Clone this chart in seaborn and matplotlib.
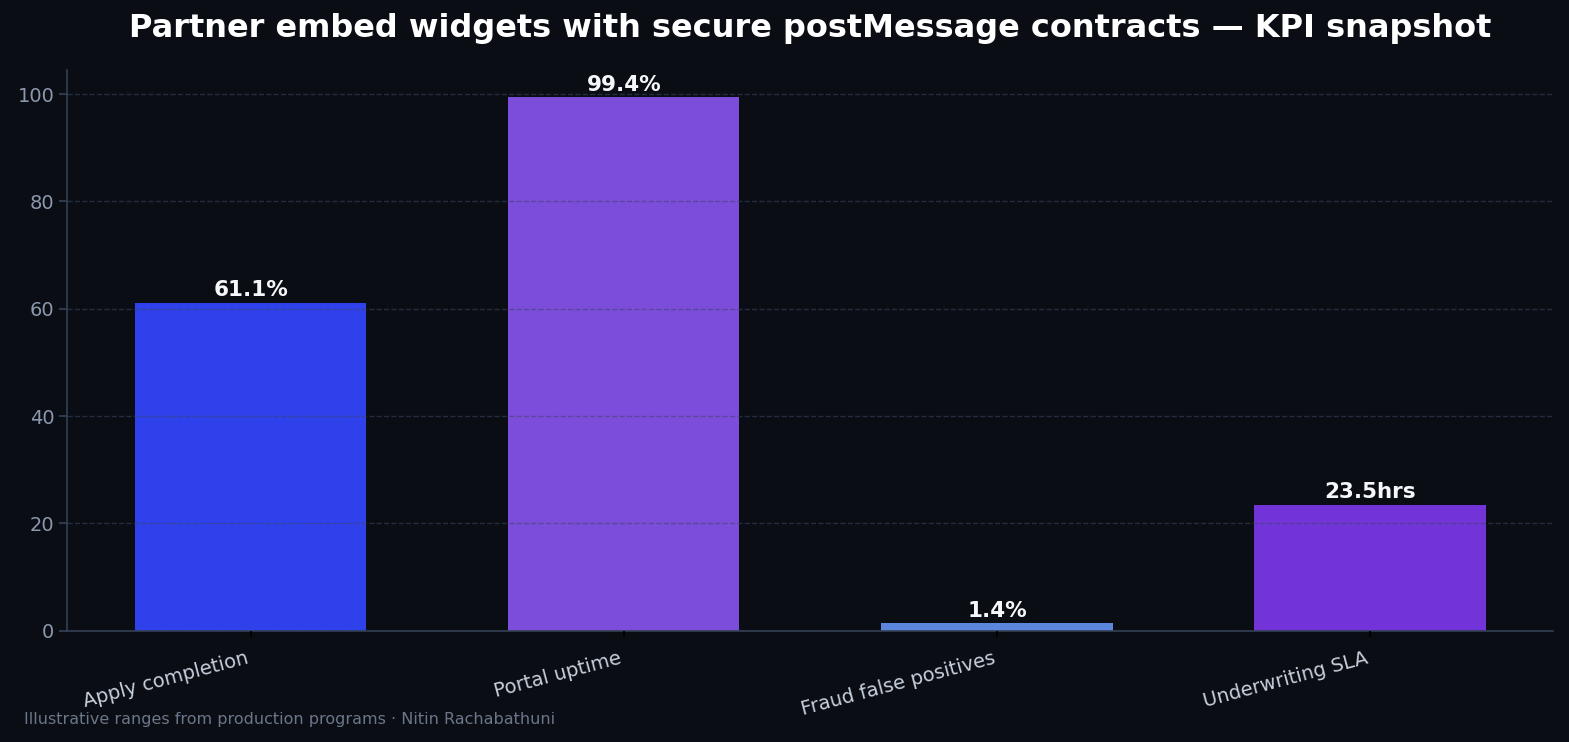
import pandas as pd
import matplotlib
matplotlib.use("Agg")
import matplotlib.pyplot as plt
import seaborn as sns

# data
categories = ["Apply completion", "Portal uptime", "Fraud false positives", "Underwriting SLA"]
values = [61.1, 99.4, 1.4, 23.5]
labels = ["61.1%", "99.4%", "1.4%", "23.5hrs"]
colors = ["#2f41ea", "#7c4ddb", "#5a87dd", "#7234d9"]

bg = "#0a0d14"
df = pd.DataFrame({"metric": categories, "value": values})

sns.set_theme(style="dark")
plt.rcParams["font.family"] = ["DejaVu Sans"]

fig, ax = plt.subplots(figsize=(15.69, 7.42), dpi=100)
fig.patch.set_facecolor(bg)
ax.set_facecolor(bg)

sns.barplot(data=df, x="metric", y="value", hue="metric", palette=colors,
            width=0.62, legend=False, ax=ax, saturation=1, linewidth=0, edgecolor="none")

for p, lab in zip(ax.patches, labels):
    ax.text(p.get_x() + p.get_width() / 2, p.get_height() + 0.5, lab,
            ha="center", va="bottom", color="#f5f7fa", fontsize=15.5, fontweight="bold")

ax.set_xlim(-0.491, 3.491)
ax.set_ylim(0, 104.4)

ax.set_title("Partner embed widgets with secure postMessage contracts — KPI snapshot",
             color="white", fontsize=23, fontweight="bold", pad=24)
ax.set_xlabel("")
ax.set_ylabel("")

ax.yaxis.grid(True, linestyle="--", color="#3b4760", alpha=0.55, linewidth=1)
ax.set_axisbelow(False)
ax.xaxis.grid(False)

for s in ["top", "right"]:
    ax.spines[s].set_visible(False)
for s in ["left", "bottom"]:
    ax.spines[s].set_color("#334155")
    ax.spines[s].set_linewidth(1.2)

ax.tick_params(axis="y", colors="#8b98ad", labelsize=14, length=6, color="#334155", left=True)
ax.tick_params(axis="x", colors="#c8d0dc", labelsize=14, length=4, color="#000000",
               bottom=True, pad=9)
plt.setp(ax.get_xticklabels(), rotation=15, ha="right", color="#c8d0dc")
for t in ax.get_yticklabels():
    t.set_color("#8b98ad")

fig.text(0.015, 0.02, "Illustrative ranges from production programs · Nitin Rachabathuni",
         color="#6b7689", fontsize=11.5, ha="left", va="bottom")

fig.subplots_adjust(left=0.043, right=0.99, top=0.905, bottom=0.15)
fig.savefig("out.png", facecolor=bg)
